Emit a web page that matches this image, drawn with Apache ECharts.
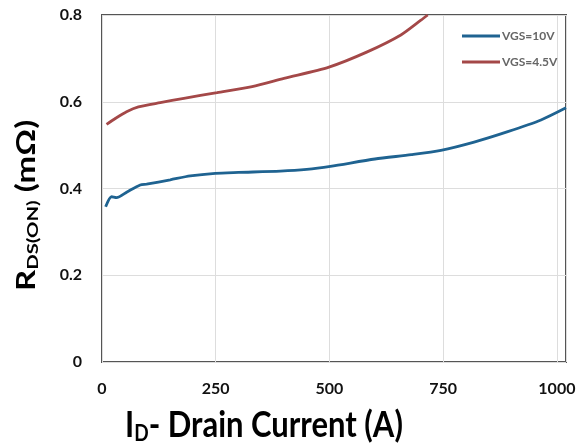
<!DOCTYPE html>
<html>
<head>
<meta charset="utf-8">
<script src="https://cdn.jsdelivr.net/npm/echarts@6/dist/echarts.min.js"></script>
<style>
  html, body { margin: 0; padding: 0; background: #ffffff; }
  #chart { width: 582px; height: 448px; }
</style>
</head>
<body>
<div id="chart"></div>
<script>
// On-resistance vs drain current, two gate voltages
const seriesNames = ['VGS=10V', 'VGS=4.5V'];

const current10 = [8, 21, 32, 55, 84, 98, 150, 194, 249, 300, 392, 450, 502, 600, 680, 745, 818, 892, 965, 1020];
const rds10 = [0.358, 0.381, 0.379, 0.392, 0.408, 0.410, 0.420, 0.429, 0.435, 0.437, 0.440, 0.444, 0.451, 0.468, 0.478, 0.488, 0.507, 0.531, 0.558, 0.586];

const current45 = [10, 30, 54, 80, 128, 180, 253, 330, 400, 499, 583, 657, 701, 716];
const rds45 = [0.548, 0.562, 0.577, 0.588, 0.598, 0.608, 0.621, 0.635, 0.654, 0.680, 0.715, 0.754, 0.788, 0.800];

const xTicks = [0, 250, 500, 750, 1000];
const yTicks = [0, 0.2, 0.4, 0.6, 0.8];

const pairs = (xs, ys) => xs.map((x, i) => [x, ys[i]]);

const chart = echarts.init(document.getElementById('chart'), null, { renderer: 'canvas' });

chart.setOption({
  backgroundColor: '#ffffff',
  animation: false,
  grid: {
    left: 102, top: 15, right: 16, bottom: 86,
    show: true, borderColor: '#555555', borderWidth: 2, backgroundColor: 'transparent'
  },
  legend: {
    orient: 'vertical',
    left: 457, top: 25,
    itemWidth: 38, itemHeight: 3, itemGap: 14,
    icon: 'rect',
    data: seriesNames,
    textStyle: { fontFamily: 'Lato', fontWeight: 'bold', fontSize: 12, color: '#666666', padding: [0, 0, 0, -3] }
  },
  xAxis: {
    type: 'value',
    min: xTicks[0], max: 1020, interval: 250,
    axisLine: { show: false },
    axisTick: { show: false },
    splitLine: { show: true, lineStyle: { color: '#dddddd', width: 1 } },
    axisLabel: {
      showMaxLabel: false, margin: 19,
      fontFamily: 'Lato', fontWeight: 'bold', fontSize: 16, color: '#111111',
      formatter: v => xTicks.includes(v) ? String(v) : ''
    }
  },
  yAxis: {
    type: 'value',
    min: yTicks[0], max: yTicks[yTicks.length - 1], interval: 0.2,
    axisLine: { show: false },
    axisTick: { show: false },
    splitLine: { show: true, lineStyle: { color: '#dddddd', width: 1 } },
    axisLabel: {
      margin: 20,
      fontFamily: 'Lato', fontWeight: 'bold', fontSize: 16, color: '#111111',
      formatter: v => (v === 0 ? '0' : v.toFixed(1))
    }
  },
  graphic: [
    {
      type: 'text', x: 125, y: 404, scaleY: 1.18,
      style: {
        text: '{m|I}{s|D}{m|- Drain Current (A)}',
        rich: {
          m: { fontFamily: 'Lato', fontWeight: 'bold', fontSize: 31, color: '#595959', lineHeight: 36 },
          s: { fontFamily: 'Lato', fontWeight: 'bold', fontSize: 19, color: '#595959', lineHeight: 36, padding: [14, 0, 0, 0] }
        }
      }
    },
    {
      type: 'text', x: 11, y: 291, rotation: Math.PI / 2, scaleX: 1.27,
      style: {
        text: '{m|R}{s|DS(ON)}{m| (mΩ)}',
        rich: {
          m: { fontFamily: 'Lato', fontWeight: 'bold', fontSize: 26, color: '#595959', lineHeight: 32 },
          s: { fontFamily: 'Lato', fontWeight: 'bold', fontSize: 16, color: '#595959', lineHeight: 32, padding: [12, 0, 0, 0] }
        }
      }
    }
  ],
  series: [
    {
      name: seriesNames[0], type: 'line', smooth: 0.25, showSymbol: false,
      color: '#1f6391', lineStyle: { width: 2.8, color: '#1f6391' },
      data: pairs(current10, rds10)
    },
    {
      name: seriesNames[1], type: 'line', smooth: 0.25, showSymbol: false,
      color: '#a44848', lineStyle: { width: 2.8, color: '#a44848' },
      data: pairs(current45, rds45)
    }
  ]
});
</script>
</body>
</html>
